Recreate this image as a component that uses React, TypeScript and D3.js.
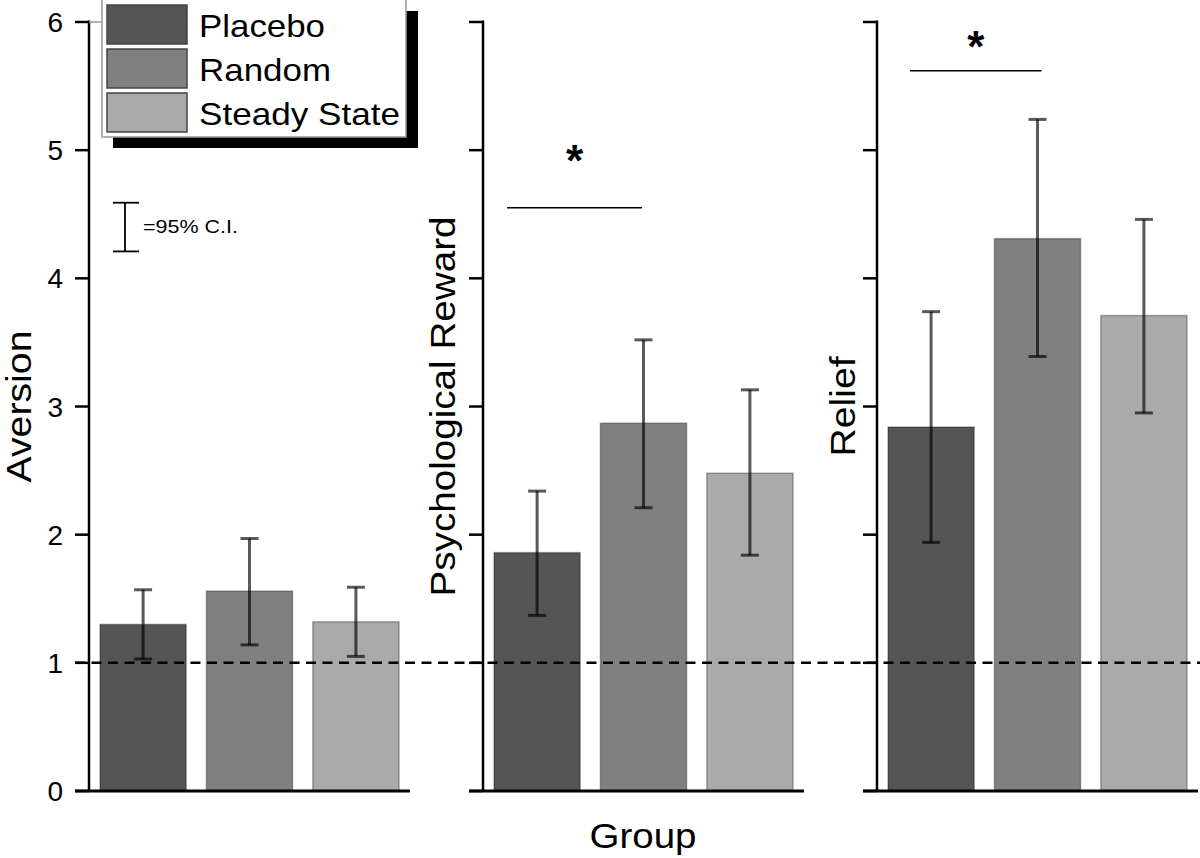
import React from "react";
import * as d3 from "d3";

const groups = ["Placebo", "Random", "Steady State"];
const measures = ["Aversion", "Psychological Reward", "Relief"];
const aversionMean = [1.3, 1.56, 1.32];
const aversionLo = [1.03, 1.14, 1.05];
const aversionHi = [1.57, 1.97, 1.59];
const rewardMean = [1.86, 2.87, 2.48];
const rewardLo = [1.37, 2.21, 1.84];
const rewardHi = [2.34, 3.52, 3.13];
const reliefMean = [2.84, 4.31, 3.71];
const reliefLo = [1.94, 3.39, 2.95];
const reliefHi = [3.74, 5.24, 4.46];
const yTicks = [0, 1, 2, 3, 4, 5, 6];
const baseline = 1;
const colors = ["#555555", "#808080", "#aaaaaa"];
// significance: panel index, from group, to group, bracket level, star level
const sigPanels = [1, 2];
const sigFrom = [0, 0];
const sigTo = [1, 1];
const sigLevel = [4.55, 5.62];
const sigStarLevel = [4.97, 5.86];
const ciLegend = [4.21, 4.59];

const panels = [
  { title: measures[0], mean: aversionMean, lo: aversionLo, hi: aversionHi },
  { title: measures[1], mean: rewardMean, lo: rewardLo, hi: rewardHi },
  { title: measures[2], mean: reliefMean, lo: reliefLo, hi: reliefHi },
];

const W = 1200;
const H = 858;
const FONT = "'Liberation Sans', Arial, Helvetica, sans-serif";

export default function App() {
  const y = d3.scaleLinear().domain([0, 6]).range([791, 22]);
  const panelX = d3.scalePoint<number>().domain([0, 1, 2]).range([89, 877]);
  const x = d3.scaleBand<string>().domain(groups).range([11, 310]).paddingInner(0.19).paddingOuter(0);
  const bw = x.bandwidth();
  const titleLen = [152, 380, 100];
  const titleX = [31, 455, 855];
  const sigStartPad = [30, 21];
  const sigEndPad = [-1.5, 4];

  return (
    <svg width={W} height={H} style={{ position: "absolute", left: 0, top: 0, background: "#fff" }} fontFamily={FONT}>
      {panels.map((p, pi) => {
        const ox = panelX(pi)!;
        return (
          <g key={pi}>
            {p.mean.map((m, gi) => {
              const bx = ox + x(groups[gi])!;
              return (
                <rect key={gi} x={bx} y={y(m)} width={bw} height={y(0) - y(m)} fill={colors[gi]} stroke="rgba(0,0,0,0.3)" strokeWidth={1.5} />
              );
            })}
            <line x1={ox} x2={ox} y1={y(6) - 1.5} y2={y(0)} stroke="#000" strokeWidth={2.5} />
            <line x1={ox - 14} x2={ox + 321} y1={y(0)} y2={y(0)} stroke="#000" strokeWidth={3} />
            {yTicks.map((t) => (
              <g key={t}>
                <line x1={ox - 14} x2={ox} y1={y(t)} y2={y(t)} stroke="#000" strokeWidth={2.5} />
                {pi === 0 && (
                  <text x={ox - 26} y={y(t) + 10} fontSize={28} textAnchor="end" fill="#000">
                    {String(t)}
                  </text>
                )}
              </g>
            ))}
            <text
              transform={`translate(${titleX[pi]},${(y(0) + y(6)) / 2}) rotate(-90)`}
              textAnchor="middle"
              fontSize={35}
              textLength={titleLen[pi]}
              lengthAdjust="spacingAndGlyphs"
              fill="#000"
            >
              {p.title}
            </text>
          </g>
        );
      })}

      <line x1={75} x2={W} y1={y(baseline)} y2={y(baseline)} stroke="#000" strokeWidth={2.5} strokeDasharray="10,6.5" />

      {panels.map((p, pi) => {
        const ox = panelX(pi)!;
        return p.mean.map((m, gi) => {
          const cx = ox + x(groups[gi])! + bw / 2;
          return (
            <g key={`${pi}-${gi}`} stroke="rgba(0,0,0,0.65)" strokeWidth={3}>
              <line x1={cx} x2={cx} y1={y(p.hi[gi])} y2={y(p.lo[gi])} />
              <line x1={cx - 9} x2={cx + 9} y1={y(p.hi[gi])} y2={y(p.hi[gi])} />
              <line x1={cx - 9} x2={cx + 9} y1={y(p.lo[gi])} y2={y(p.lo[gi])} />
            </g>
          );
        });
      })}

      {sigPanels.map((pi, i) => {
        const ox = panelX(pi)!;
        const x1 = ox + x(groups[sigFrom[i]])! + bw / 2 - sigStartPad[i];
        const x2 = ox + x(groups[sigTo[i]])! + bw / 2 + sigEndPad[i];
        return (
          <g key={i}>
            <line x1={x1} x2={x2} y1={y(sigLevel[i])} y2={y(sigLevel[i])} stroke="#000" strokeWidth={1.5} />
            <text x={(x1 + x2) / 2} y={y(sigStarLevel[i]) + 22} fontSize={44} fontWeight="bold" textAnchor="middle" fill="#000">
              *
            </text>
          </g>
        );
      })}

      <g stroke="#000" strokeWidth={1.8}>
        <line x1={125} x2={125} y1={y(ciLegend[1])} y2={y(ciLegend[0])} />
        <line x1={113} x2={139} y1={y(ciLegend[1])} y2={y(ciLegend[1])} />
        <line x1={113} x2={139} y1={y(ciLegend[0])} y2={y(ciLegend[0])} />
      </g>
      <text x={143} y={233} fontSize={18} textLength={95} lengthAdjust="spacingAndGlyphs" fill="#000">
        =95% C.I.
      </text>

      <line x1={89} x2={102} y1={y(6)} y2={y(6)} stroke="#999" strokeWidth={1.5} />
      <rect x={113} y={11} width={305} height={137} fill="#000" />
      <rect x={102} y={-1} width={304} height={138} fill="#fff" stroke="#999" strokeWidth={1.5} />
      {groups.map((g, gi) => {
        const lens = [126, 132, 201];
        return (
          <g key={g}>
            <rect x={107} y={5 + gi * 44} width={80} height={39} fill={colors[gi]} stroke="#444" strokeWidth={1.5} />
            <text x={199} y={37 + gi * 44} fontSize={30.5} textLength={lens[gi]} lengthAdjust="spacingAndGlyphs" fill="#000">
              {g}
            </text>
          </g>
        );
      })}

      <text x={643} y={848} fontSize={35} textAnchor="middle" textLength={107} lengthAdjust="spacingAndGlyphs" fill="#000">
        Group
      </text>
    </svg>
  );
}
